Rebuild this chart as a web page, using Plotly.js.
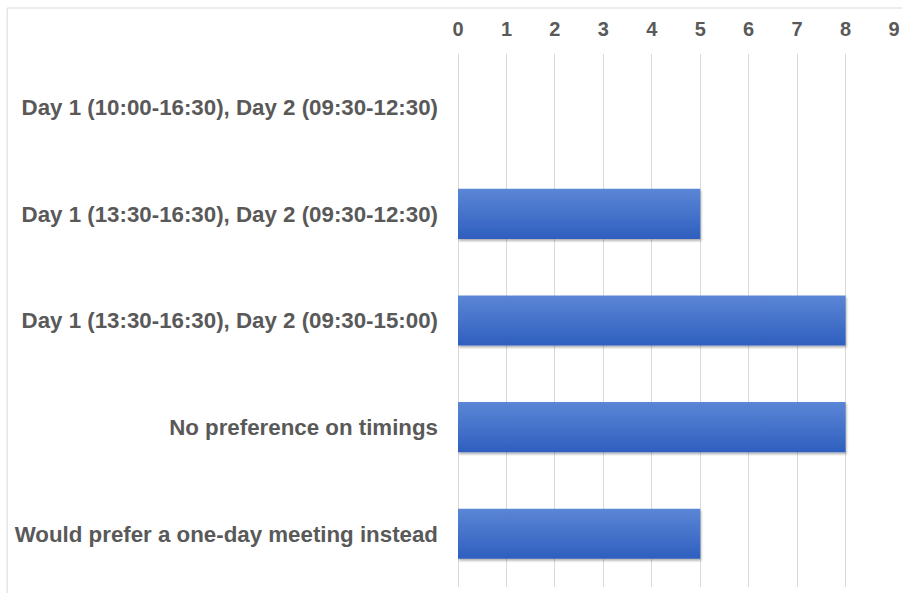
<!DOCTYPE html>
<html>
<head>
<meta charset="utf-8">
<script src="https://cdn.plot.ly/plotly-3.0.1.min.js"></script>
<style>body{margin:0;background:#fff;} #chart{width:902px;height:593px;}</style>
</head>
<body>
<div id="chart"></div>
<script>
const categories = [
  "Day 1 (10:00-16:30), Day 2 (09:30-12:30)",
  "Day 1 (13:30-16:30), Day 2 (09:30-12:30)",
  "Day 1 (13:30-16:30), Day 2 (09:30-15:00)",
  "No preference on timings",
  "Would prefer a one-day meeting instead"
];
const counts = [0, 5, 8, 8, 5];
const tickVals = [0,1,2,3,4,5,6,7,8,9];

const trace = {
  type: 'bar',
  orientation: 'h',
  y: categories,
  x: counts,
  width: 0.47,
  marker: {color: '#4472c4', line: {width: 0}},
  hoverinfo: 'x+y'
};

const FONT = '"Liberation Sans", Arial, sans-serif';

const layout = {
  width: 902, height: 593,
  margin: {l: 458, r: 8, t: 54, b: 6},
  paper_bgcolor: '#ffffff',
  plot_bgcolor: '#ffffff',
  font: {family: FONT, size: 18, color: '#595959'},
  showlegend: false,
  xaxis: {
    side: 'top',
    range: [0, 9],
    tickvals: tickVals,
    ticktext: tickVals.map(String),
    showgrid: true,
    gridcolor: '#d9d9d9',
    gridwidth: 1,
    zeroline: true,
    zerolinecolor: '#d9d9d9',
    showline: false,
    ticks: '',
    ticklen: 0,
    ticklabelstandoff: 13,
    tickfont: {family: FONT, size: 20, color: '#595959', weight: 'bold'},
    fixedrange: true
  },
  yaxis: {
    autorange: 'reversed',
    showgrid: false,
    zeroline: false,
    showline: false,
    ticks: '',
    ticklen: 0,
    ticklabelstandoff: 19,
    tickfont: {family: FONT, size: 22.3, color: '#595959', weight: 'bold'},
    fixedrange: true
  },
  shapes: [
    {type: 'line', xref: 'paper', yref: 'paper', x0: -1.034, x1: 1.02, y0: 1.0863, y1: 1.0863,
     line: {color: '#d9d9d9', width: 1}},
    {type: 'line', xref: 'paper', yref: 'paper', x0: -1.034, x1: -1.034, y0: 1.0863, y1: -0.02,
     line: {color: '#d9d9d9', width: 1}}
  ]
};

Plotly.newPlot('chart', [trace], layout, {displayModeBar: false, staticPlot: true}).then(function(gd){
  const svg = gd.querySelector('svg.main-svg');
  const NS = 'http://www.w3.org/2000/svg';
  const defs = document.createElementNS(NS, 'defs');
  defs.innerHTML = '<linearGradient id="barGrad" x1="0" y1="0" x2="0" y2="1">' +
    '<stop offset="0" stop-color="#5b86d6"/><stop offset="1" stop-color="#2f5fbf"/></linearGradient>' +
    '<filter id="barShadow" x="-5%" y="-10%" width="115%" height="140%">' +
    '<feDropShadow dx="1" dy="2" stdDeviation="1.2" flood-color="#000" flood-opacity="0.3"/></filter>';
  svg.insertBefore(defs, svg.firstChild);
  gd.querySelectorAll('.bars .point path').forEach(function(p){
    p.style.fill = 'url(#barGrad)';
    p.setAttribute('filter', 'url(#barShadow)');
  });
});
</script>
</body>
</html>
